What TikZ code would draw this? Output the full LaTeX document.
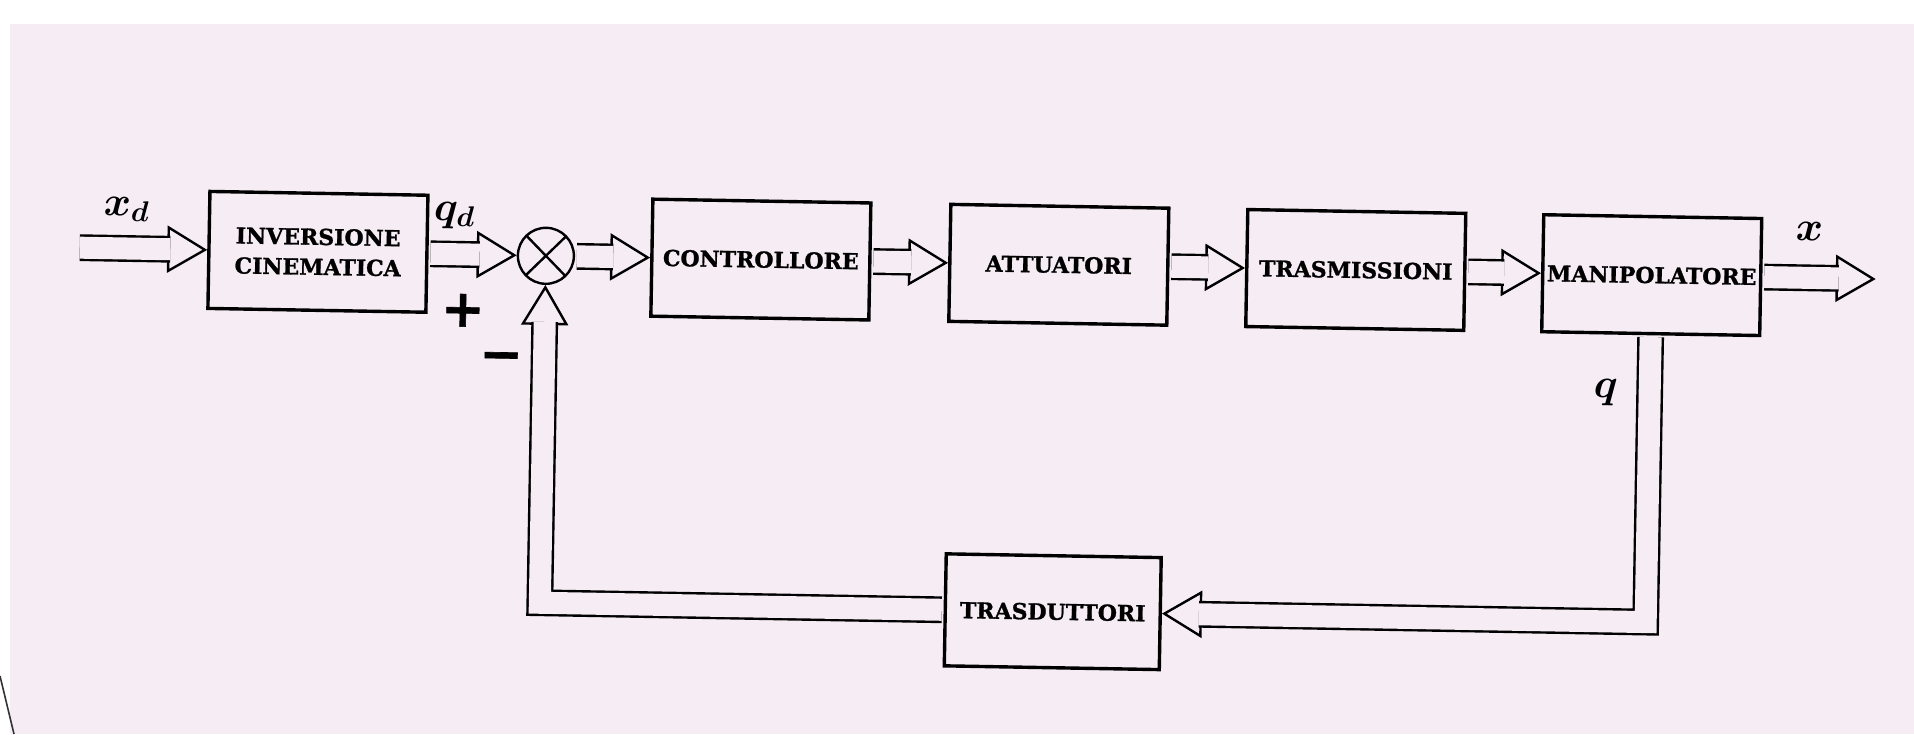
\documentclass[tikz,border=0pt]{standalone}
\usepackage{amsmath,amssymb,bm}
\usepackage{fontspec}
\setmainfont{DejaVu Serif}[BoldFeatures={FakeBold=1.2}]
\usetikzlibrary{positioning,calc,arrows.meta}
\definecolor{scanbg}{RGB}{246,237,244}

\begin{document}
\begin{tikzpicture}[x=0.5pt,y=-0.5pt,
  block/.style={draw,line width=1.7pt,fill=scanbg,minimum width=109pt,minimum height=58.5pt,inner sep=0pt,align=center,font=\bfseries\fontsize{11}{15}\selectfont},
  sumnode/.style={circle,draw,line width=1.2pt,minimum size=28pt,inner sep=0pt,fill=scanbg,
    path picture={\draw[line width=1.2pt] (path picture bounding box.north west) -- (path picture bounding box.south east)
      (path picture bounding box.south west) -- (path picture bounding box.north east);}},
  hollowhead/.style={draw=scanbg,line width=1.2pt,shorten <=0.9pt,-{Triangle[length=20pt,width=23.5pt,color=black,fill=scanbg]}},
  hollowshaft/.style={draw,line width=1.2pt,double=scanbg,double distance=11pt,shorten <=0.9pt,shorten >=18.5pt},
  sym/.style={font=\fontsize{20}{24}\selectfont},
  signs/.style={font=\bfseries\fontsize{26}{28}\selectfont}]
% page of the scan
\fill[white] (0,0) rectangle (1914,734);
\fill[scanbg] (10,24) rectangle (1914,734);
\useasboundingbox (0,0) rectangle (1914,734);
\draw[line width=0.8pt,black!80] (0,676) -- (14,734);
\begin{scope}[transform canvas={rotate around={-1:(957,367)}}]
% main chain
\node[block] (inv) at (316,263) {INVERSIONE\\CINEMATICA};
\node[sumnode] (circ) at (544,263) {};
\node[block] (ctrl) at (759,263) {CONTROLLORE};
\node[block] (att) at (1057,263) {ATTUATORI};
\node[block] (tras) at (1354,263) {TRASMISSIONI};
\node[block] (man) at (1650,263) {MANIPOLATORE};
\node[block,minimum width=107.5pt,minimum height=56pt] (trd) at (1057,610) {TRASDUTTORI};
\coordinate (xin) at (76,263);
\coordinate (xout) at (1874,263);
% signal labels
\node[sym] (xdlab) at (124,224) {$\bm{x}_{\bm{d}}$};
\node[sym] (qdlab) at (452,224) {$\bm{q}_{\bm{d}}$};
\node[signs] (plus) at (462,319) {+};
\node[signs] (minus) at (501,370) {−};
\node[sym] (xlab) at (1807,217) {$\bm{x}$};
\node[sym] (qlab) at (1606,381) {$\bm{q}$};
% hollow arrows
\draw[hollowhead] (xin) -- (inv.west);
\draw[hollowshaft] (xin) -- (inv.west);
\foreach \a/\b in {inv/circ,circ/ctrl,ctrl/att,att/tras,tras/man} {
  \draw[hollowhead] (\a.east) -- (\b.west);
  \draw[hollowshaft] (\a.east) -- (\b.west);
}
\draw[hollowhead] (man.east) -- (xout);
\draw[hollowshaft] (man.east) -- (xout);
% feedback
\draw[hollowhead] (man.south) |- (trd.east);
\draw[hollowshaft] (man.south) |- (trd.east);
\draw[hollowhead] (trd.west) -| (circ.south);
\draw[hollowshaft] (trd.west) -| (circ.south);
\end{scope}
\end{tikzpicture}
\end{document}
